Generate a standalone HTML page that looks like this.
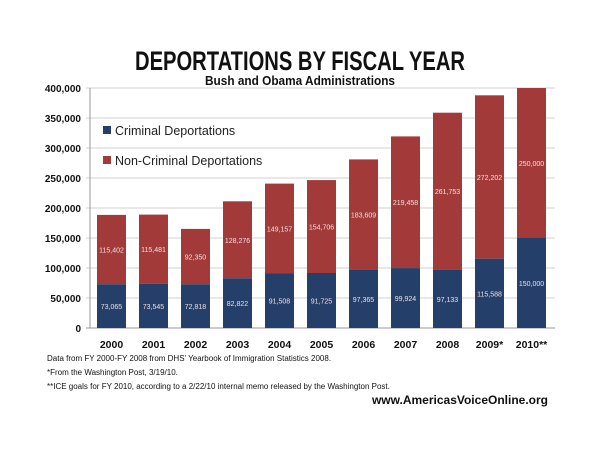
<!DOCTYPE html>
<html><head><style>
body{margin:0;background:#fff;}
svg text{font-family:"Liberation Sans",sans-serif;}
</style></head><body>
<svg width="600" height="463" viewBox="0 0 600 463" xmlns="http://www.w3.org/2000/svg">
<rect width="600" height="463" fill="#fff"/>
<text x="135" y="70" font-size="27" font-weight="bold" fill="#111" textLength="330" lengthAdjust="spacingAndGlyphs">DEPORTATIONS BY FISCAL YEAR</text>
<text x="205" y="85" font-size="12.5" font-weight="bold" fill="#111" textLength="190" lengthAdjust="spacingAndGlyphs">Bush and Obama Administrations</text>
<g stroke="#d0d0d0" stroke-width="1">
<line x1="86" y1="88" x2="555" y2="88"/><line x1="86" y1="118" x2="555" y2="118"/>
<line x1="86" y1="148" x2="555" y2="148"/><line x1="86" y1="178" x2="555" y2="178"/>
<line x1="86" y1="208" x2="555" y2="208"/><line x1="86" y1="238" x2="555" y2="238"/>
<line x1="86" y1="268" x2="555" y2="268"/><line x1="86" y1="298" x2="555" y2="298"/>
</g>
<line x1="90" y1="88" x2="90" y2="328" stroke="#999"/>
<line x1="86" y1="328" x2="555" y2="328" stroke="#999"/>
<g font-size="10" font-weight="bold" fill="#111" text-anchor="end">
<text x="81" y="92">400,000</text><text x="81" y="122">350,000</text><text x="81" y="152">300,000</text>
<text x="81" y="182">250,000</text><text x="81" y="212">200,000</text><text x="81" y="242">150,000</text>
<text x="81" y="272">100,000</text><text x="81" y="302">50,000</text><text x="81" y="332">0</text>
</g>
<g fill="#a33a3a">
<rect x="97" y="214.9" width="29" height="69.3"/>
<rect x="139" y="214.6" width="29" height="69.3"/>
<rect x="181" y="228.9" width="29" height="55.4"/>
<rect x="223" y="201.3" width="29" height="77"/>
<rect x="265" y="183.6" width="29" height="89.5"/>
<rect x="307" y="180.1" width="29" height="92.9"/>
<rect x="349" y="159.4" width="29" height="110.2"/>
<rect x="391" y="136.4" width="29" height="131.7"/>
<rect x="433" y="112.7" width="29" height="157.1"/>
<rect x="475" y="95.3" width="29" height="163.4"/>
<rect x="517" y="88" width="29" height="150"/>
</g>
<g fill="#24406a">
<rect x="97" y="284.2" width="29" height="43.8"/>
<rect x="139" y="283.9" width="29" height="44.1"/>
<rect x="181" y="284.3" width="29" height="43.7"/>
<rect x="223" y="278.3" width="29" height="49.7"/>
<rect x="265" y="273.1" width="29" height="54.9"/>
<rect x="307" y="273" width="29" height="55"/>
<rect x="349" y="269.6" width="29" height="58.4"/>
<rect x="391" y="268.1" width="29" height="59.9"/>
<rect x="433" y="269.7" width="29" height="58.3"/>
<rect x="475" y="258.7" width="29" height="69.3"/>
<rect x="517" y="238" width="29" height="90"/>
</g>
<g font-size="7" fill="#f2dede" text-anchor="middle">
<text x="111.5" y="252.5">115,402</text>
<text x="153.5" y="252.2">115,481</text>
<text x="195.5" y="259.6">92,350</text>
<text x="237.5" y="242.8">128,276</text>
<text x="279.5" y="231.4">149,157</text>
<text x="321.5" y="229.6">154,706</text>
<text x="363.5" y="217.5">183,609</text>
<text x="405.5" y="205.2">219,458</text>
<text x="447.5" y="194.2">261,753</text>
<text x="489.5" y="180">272,202</text>
<text x="531.5" y="166">250,000</text>
<text x="111.5" y="309.1">73,065</text>
<text x="153.5" y="309">73,545</text>
<text x="195.5" y="309.2">72,818</text>
<text x="237.5" y="306.2">82,822</text>
<text x="279.5" y="303.6">91,508</text>
<text x="321.5" y="303.5">91,725</text>
<text x="363.5" y="301.8">97,365</text>
<text x="405.5" y="301">99,924</text>
<text x="447.5" y="301.9">97,133</text>
<text x="489.5" y="296.3">115,588</text>
<text x="531.5" y="286">150,000</text>
</g>
<g font-size="10.5" font-weight="bold" fill="#111" text-anchor="middle">
<text x="111.5" y="348">2000</text><text x="153.5" y="348">2001</text><text x="195.5" y="348">2002</text>
<text x="237.5" y="348">2003</text><text x="279.5" y="348">2004</text><text x="321.5" y="348">2005</text>
<text x="363.5" y="348">2006</text><text x="405.5" y="348">2007</text><text x="447.5" y="348">2008</text>
<text x="489.5" y="348">2009*</text><text x="531.5" y="348">2010**</text>
</g>
<rect x="103" y="126" width="8" height="8" fill="#24406a"/>
<text x="115" y="135" font-size="12.5" fill="#222">Criminal Deportations</text>
<rect x="103" y="156" width="8" height="8" fill="#a33a3a"/>
<text x="115" y="165" font-size="12.5" fill="#222">Non-Criminal Deportations</text>
<g font-size="8" fill="#111">
<text x="47" y="361">Data from FY 2000-FY 2008 from DHS' Yearbook of Immigration Statistics 2008.</text>
<text x="47" y="375">*From the Washington Post, 3/19/10.</text>
<text x="47" y="389">**ICE goals for FY 2010, according to a 2/22/10 internal memo released by the Washington Post.</text>
</g>
<text x="548" y="404" text-anchor="end" font-size="12" font-weight="bold" fill="#111">www.AmericasVoiceOnline.org</text>
</svg>
</body></html>
